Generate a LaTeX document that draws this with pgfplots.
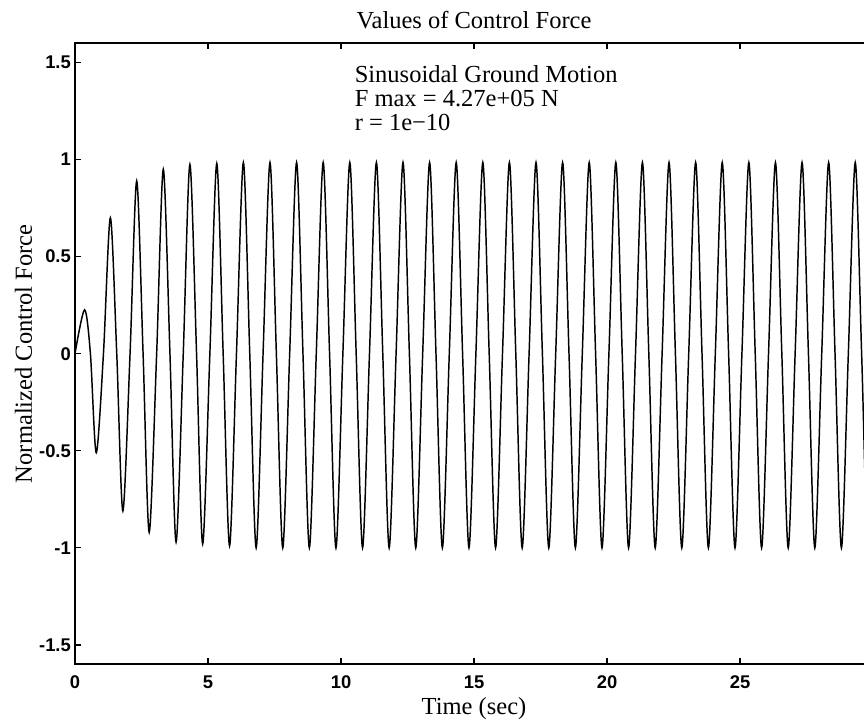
\documentclass[border=0pt]{standalone}
\usepackage{fontspec}
\setmainfont{Liberation Serif}
\setsansfont{Liberation Sans}
\usepackage{pgfplots}
\pgfplotsset{compat=1.18}

\begin{document}
\begin{tikzpicture}
\begin{axis}[
    name=ax,
    scale only axis,
    width=325.7pt,
    height=253.5pt,
    xmin=0, xmax=30,
    ymin=-1.6, ymax=1.6,
    xtick={0,5,...,25},
    ytick={-1.5,-1,...,1.5},
    tick align=inside,
    major tick length=2.5pt,
    axis line style={line width=0.8pt},
    tick style={line width=0.5pt, black},
    /pgf/number format/assume math mode=true,
    ticklabel style={font=\sffamily\bfseries\fontsize{7.5}{8}\selectfont},
    yticklabel style={inner xsep=1.5pt},
    xticklabel style={inner ysep=2pt, yshift=-2.5pt},
    every axis title shift=0pt,
    title={Values of Control Force},
    title style={at={(axis description cs:0.5,1)}, anchor=base, yshift=6pt, inner sep=0pt, font=\fontsize{10}{12}\selectfont},
    xlabel={Time (sec)},
    xlabel style={at={(axis description cs:0.5,-0.081)}, anchor=base, inner sep=0pt, font=\fontsize{10}{12}\selectfont},
    ylabel={Normalized Control Force},
    ylabel style={at={(axis description cs:-0.054,0.5)}, anchor=base, inner sep=0pt, font=\fontsize{10}{12}\selectfont},
]
\addplot[black, line width=0.6pt, smooth] coordinates {
(0,0) (0.36,0.226) (0.58,0) (0.80,-0.51) (1.07,0)
(1.33,0.70) (1.57,0) (1.80,-0.81) (2.07,0)
(2.32,0.89) (2.56,0) (2.79,-0.92) (3.07,0)
(3.32,0.95) (3.57,0) (3.80,-0.97) (4.07,0)
(4.32,0.975) (4.57,0) (4.80,-0.98) (5.07,0)
(5.33,0.98) (5.57,0) (5.81,-0.99) (6.07,0)
(6.33,0.985) (6.57,0) (6.81,-1) (7.07,0)
(7.33,0.985) (7.57,0) (7.81,-1) (8.07,0)
(8.33,0.985) (8.57,0) (8.81,-1) (9.07,0)
(9.33,0.985) (9.57,0) (9.81,-1) (10.07,0)
(10.33,0.985) (10.57,0) (10.81,-1) (11.07,0)
(11.33,0.985) (11.57,0) (11.81,-1) (12.07,0)
(12.33,0.985) (12.57,0) (12.81,-1) (13.07,0)
(13.33,0.985) (13.57,0) (13.81,-1) (14.07,0)
(14.33,0.985) (14.57,0) (14.81,-1) (15.07,0)
(15.33,0.985) (15.57,0) (15.81,-1) (16.07,0)
(16.33,0.985) (16.57,0) (16.81,-1) (17.07,0)
(17.33,0.985) (17.57,0) (17.81,-1) (18.07,0)
(18.33,0.985) (18.57,0) (18.81,-1) (19.07,0)
(19.33,0.985) (19.57,0) (19.81,-1) (20.07,0)
(20.33,0.985) (20.57,0) (20.81,-1) (21.07,0)
(21.33,0.985) (21.57,0) (21.81,-1) (22.07,0)
(22.33,0.985) (22.57,0) (22.81,-1) (23.07,0)
(23.33,0.985) (23.57,0) (23.81,-1) (24.07,0)
(24.33,0.985) (24.57,0) (24.81,-1) (25.07,0)
(25.33,0.985) (25.57,0) (25.81,-1) (26.07,0)
(26.33,0.985) (26.57,0) (26.81,-1) (27.07,0)
(27.33,0.985) (27.57,0) (27.81,-1) (28.07,0)
(28.33,0.985) (28.57,0) (28.81,-1) (29.07,0)
(29.33,0.985) (29.57,0) (29.81,-1) (30.07,0)
};
\node[anchor=north west, inner sep=0pt, align=left, font=\fontsize{10}{9.8}\selectfont]
  at (axis cs:10.5,1.485) {Sinusoidal Ground Motion\\F max = 4.27e+05 N\\r = 1e−10};
\end{axis}
\pgfresetboundingbox
\path ([xshift=-30.6pt,yshift=-23.3pt]ax.south west) rectangle ([xshift=322pt,yshift=17.6pt]ax.north west);
\end{tikzpicture}
\end{document}
